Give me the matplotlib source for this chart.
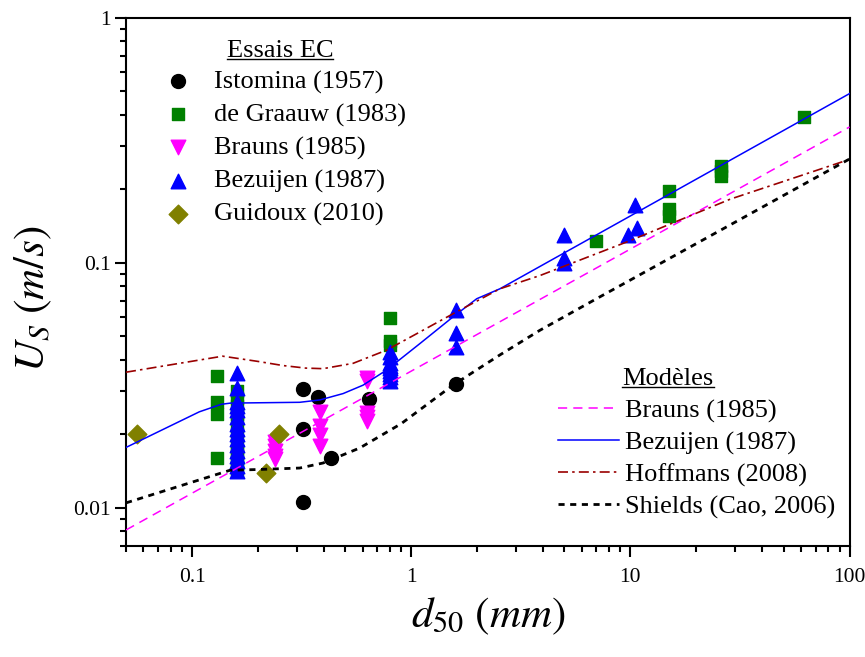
import matplotlib
matplotlib.use('Agg')
import matplotlib.pyplot as plt
from matplotlib.lines import Line2D
from matplotlib.ticker import LogLocator, NullFormatter

plt.rcParams['font.family'] = ['Liberation Serif', 'DejaVu Serif']
plt.rcParams['mathtext.fontset'] = 'stix'

# --- Essais EC (points mesures) ---
istomina_d = [0.32, 0.32, 0.32, 0.375, 0.43, 0.64, 1.6]
istomina_u = [0.0304, 0.021, 0.0105, 0.0283, 0.0159, 0.0278, 0.032]

graauw_d = [0.13, 0.13, 0.13, 0.13,
            0.16, 0.16, 0.16, 0.16, 0.16, 0.16, 0.16, 0.16, 0.16, 0.16, 0.16,
            0.8, 0.8, 0.8,
            7, 15, 15, 15, 26, 26, 26, 62]
graauw_u = [0.0346, 0.027, 0.0241, 0.0159,
            0.030, 0.028, 0.026, 0.024, 0.022, 0.020, 0.018, 0.017, 0.016, 0.015, 0.0143,
            0.0596, 0.048, 0.046,
            0.122, 0.196, 0.165, 0.155, 0.248, 0.236, 0.226, 0.393]

brauns_d = [0.24, 0.24, 0.24, 0.24, 0.24,
            0.385, 0.385, 0.385, 0.385,
            0.63, 0.63, 0.63, 0.63, 0.63]
brauns_u = [0.0186, 0.0178, 0.017, 0.0163, 0.0158,
            0.0245, 0.0216, 0.0198, 0.0179,
            0.0339, 0.0328, 0.0243, 0.0234, 0.0226]

bezuijen_d = [0.16] * 16 + [0.8] * 9 + [1.6, 1.6, 1.6, 5, 5, 5, 9.7, 10.5, 10.7]
bezuijen_u = [0.0353, 0.0307, 0.027, 0.026, 0.025, 0.0235, 0.022, 0.021,
              0.020, 0.019, 0.018, 0.017, 0.0162, 0.0155, 0.0148, 0.0141,
              0.043, 0.041, 0.039, 0.038, 0.037, 0.036, 0.035, 0.034, 0.033,
              0.0638, 0.0516, 0.0453, 0.130, 0.104, 0.100, 0.130, 0.172, 0.139]

guidoux_d = [0.056, 0.25, 0.218]
guidoux_u = [0.020, 0.020, 0.0139]

# --- Modeles (courbes) ---
m_brauns_d = [0.05, 100]
m_brauns_u = [0.0081, 0.358]

m_bezuijen_d = [0.05, 0.108, 0.136, 0.15, 0.31, 0.383, 0.489, 0.603, 0.771,
                1.095, 1.55, 1.99, 2.54, 100]
m_bezuijen_u = [0.0176, 0.0246, 0.0264, 0.0267, 0.0269, 0.0275, 0.0292, 0.0316, 0.0364,
                0.0467, 0.060, 0.0712, 0.0782, 0.49]

m_hoffmans_d = [0.05, 0.138, 0.2, 0.26, 0.33, 0.396, 0.543, 0.771, 1.095,
                1.55, 2.54, 3.86, 9.96, 28.5, 100]
m_hoffmans_u = [0.0357, 0.0415, 0.0395, 0.0380, 0.0371, 0.0369, 0.0388, 0.0439, 0.0521,
                0.0618, 0.0782, 0.0885, 0.1229, 0.1815, 0.264]

m_shields_d = [0.05, 0.149, 0.2, 0.31, 0.396, 0.582, 0.9, 1.55, 2.54, 3.86, 7, 100]
m_shields_u = [0.01045, 0.0142, 0.0143, 0.0145, 0.0152, 0.0175, 0.0220, 0.0316, 0.042,
               0.0529, 0.0712, 0.265]

fig = plt.figure(figsize=(8.65, 6.57), dpi=100)
ax = fig.add_axes([0.1457, 0.1697, 0.8365, 0.8034])

# points
p1 = ax.scatter(istomina_d, istomina_u, s=100, marker='o', color='black', zorder=3)
p2 = ax.scatter(graauw_d, graauw_u, s=70, marker='s', color='#008000', zorder=2)
p3 = ax.scatter(brauns_d, brauns_u, s=110, marker='v', color='#ff00ff', zorder=3)
p4 = ax.scatter(bezuijen_d, bezuijen_u, s=110, marker='^', color='#0000ff', zorder=3)
p5 = ax.scatter(guidoux_d, guidoux_u, s=90, marker='D', color='#808000', zorder=3)

# modeles
l1, = ax.plot(m_brauns_d, m_brauns_u, color='#ff00ff', lw=1.1, dashes=(6, 4), zorder=4)
l2, = ax.plot(m_bezuijen_d, m_bezuijen_u, color='#0000ff', lw=1.1, zorder=4)
l3, = ax.plot(m_hoffmans_d, m_hoffmans_u, color='#990000', lw=1.2,
              dashes=(6, 2.5, 1.5, 2.5), zorder=4)
l4, = ax.plot(m_shields_d, m_shields_u, color='black', lw=2, dashes=(2.2, 2), zorder=4)

ax.set_xscale('log')
ax.set_yscale('log')
ax.set_xlim(0.05, 100)
ax.set_ylim(0.007, 1)

ax.set_xticks([0.1, 1, 10, 100], labels=['0.1', '1', '10', '100'])
ax.set_yticks([0.01, 0.1, 1], labels=['0.01', '0.1', '1'])
ax.xaxis.set_minor_locator(LogLocator(base=10, subs=range(2, 10)))
ax.yaxis.set_minor_locator(LogLocator(base=10, subs=range(2, 10)))
ax.xaxis.set_minor_formatter(NullFormatter())
ax.yaxis.set_minor_formatter(NullFormatter())
ax.tick_params(which='major', direction='out', length=8, width=1.5, labelsize=15.5,
               top=False, right=False)
ax.tick_params(axis='x', which='major', pad=8)
ax.tick_params(axis='y', which='major', pad=3)
ax.tick_params(which='minor', direction='out', length=4.3, width=1.5, top=False, right=False)
for sp in ax.spines.values():
    sp.set_linewidth(1.5)

ax.set_xlabel(r'$d_{50}\ (mm)$', fontsize=31)
ax.set_ylabel(r'$U_S\ (m/s)$', fontsize=31)
ax.xaxis.set_label_coords(0.5, -0.095)
ax.yaxis.set_label_coords(-0.1, 0.468)

leg1 = fig.legend([p1, p2, p3, p4, p5],
                  ['Istomina (1957)', 'de Graauw (1983)', 'Brauns (1985)',
                   'Bezuijen (1987)', 'Guidoux (2010)'],
                  loc='upper left', bbox_to_anchor=(0.190, 0.894), frameon=False,
                  fontsize=19, scatterpoints=1, handlelength=1.0, handletextpad=0.9,
                  labelspacing=0.35, borderpad=0, borderaxespad=0)

leg2 = ax.legend([l1, l2, l3, l4],
                 ['Brauns (1985)', 'Bezuijen (1987)', 'Hoffmans (2008)', 'Shields (Cao, 2006)'],
                 loc='upper left', bbox_to_anchor=(558 / 865, 1 - 399 / 657),
                 bbox_transform=fig.transFigure, frameon=False, fontsize=19,
                 handlelength=2.3, handletextpad=0.25, labelspacing=0.31,
                 borderpad=0, borderaxespad=0)

t1 = fig.text(280 / 865, 1 - 51 / 657, 'Essais EC', ha='center', va='center', fontsize=19)
t2 = fig.text(668 / 865, 1 - 379 / 657, 'Modèles', ha='center', va='center', fontsize=19)

# soulignement des titres
fig.canvas.draw()
r = fig.canvas.get_renderer()
for t in (t1, t2):
    bb = t.get_window_extent(renderer=r)
    yy = (bb.y0 + 3) / fig.bbox.height
    fig.add_artist(Line2D([bb.x0 / fig.bbox.width, bb.x1 / fig.bbox.width], [yy, yy],
                          color='black', lw=1.0, transform=fig.transFigure))

fig.savefig('out.png', dpi=100)
